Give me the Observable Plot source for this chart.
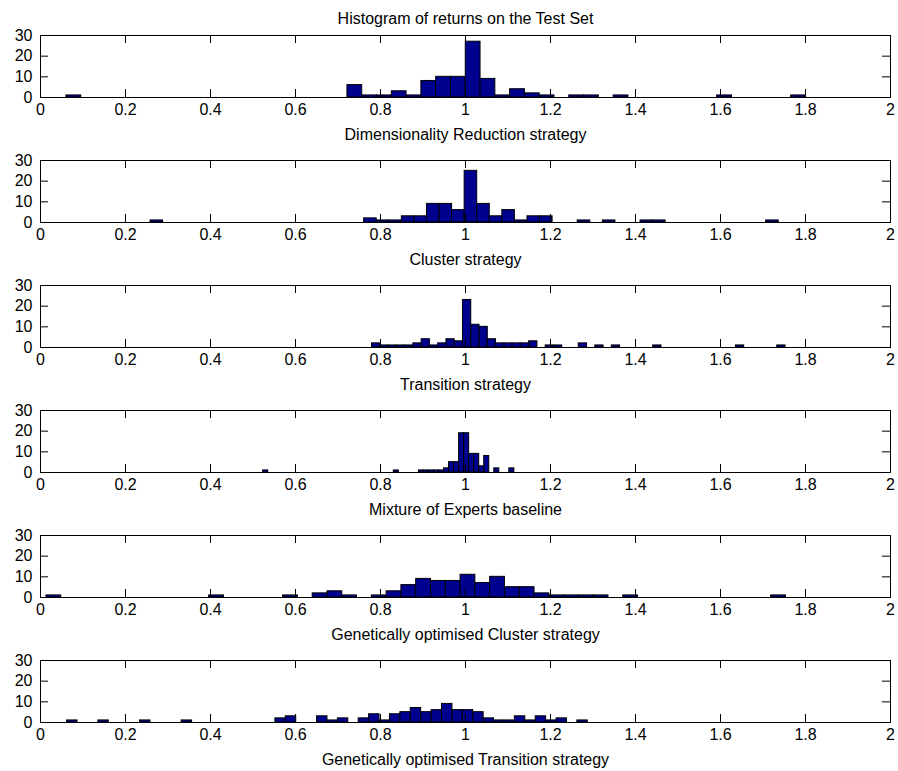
<!DOCTYPE html>
<html><head><meta charset="utf-8">
<script src="https://cdn.jsdelivr.net/npm/d3@7"></script>
<script src="https://cdn.jsdelivr.net/npm/@observablehq/plot@0.6"></script>
<style>
body{margin:0;background:#fff;}
#chart{position:relative;width:898px;height:771px;font-family:"Liberation Sans",Arial,sans-serif;}
#chart svg{position:absolute;left:0;overflow:visible;}
</style></head><body><div id="chart"></div>
<script>
const title = "Histogram of returns on the Test Set";
const panelLabels = [
  "Dimensionality Reduction strategy",
  "Cluster strategy",
  "Transition strategy",
  "Mixture of Experts baseline",
  "Genetically optimised Cluster strategy",
  "Genetically optimised Transition strategy"
];
const xTicks = [0, 0.2, 0.4, 0.6, 0.8, 1, 1.2, 1.4, 1.6, 1.8, 2];
const xTickLabels = ["0", "0.2", "0.4", "0.6", "0.8", "1", "1.2", "1.4", "1.6", "1.8", "2"];
const yTicks = [0, 10, 20, 30];

// histogram bins: first bin start and bin width per panel (50 bins each)
const binStarts = [0.061, 0.259, 0.780, 0.524, 0.014, 0.0627];
const binWidths = [0.0348, 0.02956, 0.01946, 0.01182, 0.0348, 0.0245];

const counts1 = [1,0,0,0,0,0,0,0,0,0, 0,0,0,0,0,0,0,0,0,6, 1,1,3,1,8,10,10,27,9,1, 4,2,1,0,1,1,0,1,0,0, 0,0,0,0,1,0,0,0,0,1];
const counts2 = [1,0,0,0,0,0,0,0,0,0, 0,0,0,0,0,0,0,2,1,1, 3,3,9,9,6,25,9,3,6,1, 3,3,0,0,1,0,1,0,0,1, 1,0,0,0,0,0,0,0,0,1];
const counts3 = [2,1,1,1,1,2,4,1,2,4, 3,23,11,10,4,2,2,2,2,3, 0,1,1,0,0,2,0,1,0,1, 0,0,0,0,1,0,0,0,0,0, 0,0,0,0,1,0,0,0,0,1];
const counts4 = [1,0,0,0,0,0,0,0,0,0, 0,0,0,0,0,0,0,0,0,0, 0,0,0,0,0,0,1,0,0,0, 0,1,1,1,1,1,2,5,5,19, 19,9,9,3,8,0,2,0,0,2];
const counts5 = [1,0,0,0,0,0,0,0,0,0, 0,1,0,0,0,0,1,0,2,3, 1,0,1,3,6,9,8,8,11,7, 10,5,5,2,1,1,1,1,0,1, 0,0,0,0,0,0,0,0,0,1];
const counts6 = [1,0,0,1,0,0,0,1,0,0, 0,1,0,0,0,0,0,0,0,0, 2,3,0,0,3,1,2,0,2,4, 1,4,5,7,5,6,9,6,6,5, 2,1,1,3,1,3,1,2,0,1];

const allCounts = [counts1, counts2, counts3, counts4, counts5, counts6];

const container = document.getElementById("chart");
const firstTop = 35, step = 125, frameH = 62, mb = 50;
const fontFamily = "'Liberation Sans', Arial, sans-serif";

allCounts.forEach((counts, i) => {
  const mt = i === 0 ? 35 : 10;
  const start = binStarts[i], w = binWidths[i];
  const rows = counts
    .map((c, k) => ({x1: start + k * w, x2: start + (k + 1) * w, y1: 0, y2: c}))
    .filter(d => d.y2 > 0);
  const tickLenY = 8 * 30 / frameH;   // 8px tick in y units
  const tickLenX = 8 * 2 / 850;       // 8px tick in x units
  const marks = [
    Plot.rectY(rows, {x1: "x1", x2: "x2", y1: "y1", y2: "y2", fill: "#00008F", stroke: "#000", strokeWidth: 1}),
    Plot.ruleX(xTicks, {y1: 0, y2: tickLenY, stroke: "#000"}),
    Plot.ruleX(xTicks, {y1: 30 - tickLenY, y2: 30, stroke: "#000"}),
    Plot.ruleY(yTicks, {x1: 0, x2: tickLenX, stroke: "#000"}),
    Plot.ruleY(yTicks, {x1: 2 - tickLenX, x2: 2, stroke: "#000"}),
    Plot.frame({stroke: "#000"}),
    Plot.axisX(xTicks, {tickSize: 0, tickPadding: 6, tickFormat: d => xTickLabels[xTicks.indexOf(d)], label: null}),
    Plot.axisY(yTicks, {tickSize: 0, tickPadding: 8, label: null}),
    Plot.text([panelLabels[i]], {frameAnchor: "bottom", dy: 42, lineAnchor: "bottom", text: d => d, fill: "#000"})
  ];
  if (i === 0) marks.push(Plot.text([title], {frameAnchor: "top", dy: -12, lineAnchor: "bottom", text: d => d, fill: "#000"}));
  const svg = Plot.plot({
    width: 898,
    height: mt + frameH + mb,
    marginLeft: 40,
    marginRight: 8,
    marginTop: mt,
    marginBottom: mb,
    x: {domain: [0, 2]},
    y: {domain: [0, 30]},
    style: {fontFamily, fontSize: "16px", color: "#000", background: "transparent", overflow: "visible"},
    marks
  });
  svg.style.top = (firstTop + step * i - mt) + "px";
  container.appendChild(svg);
});
</script>
</body></html>
